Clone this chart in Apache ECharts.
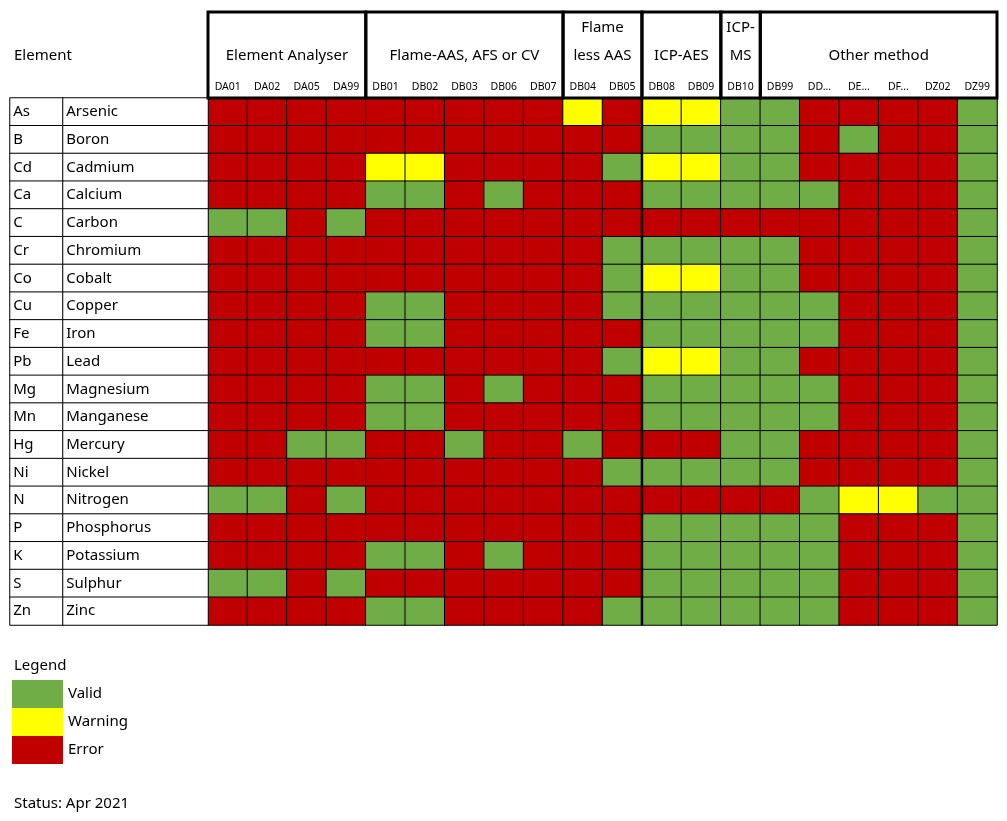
<!DOCTYPE html>
<html><head><meta charset="utf-8">
<script src="https://cdn.jsdelivr.net/npm/echarts@6/dist/echarts.min.js"></script>
<style>html,body{margin:0;padding:0;background:#fff}#c{width:1007px;height:821px}</style>
</head><body><div id="c"></div>
<script>
const columns = ['DA01','DA02','DA05','DA99','DB01','DB02','DB03','DB06','DB07','DB04','DB05','DB08','DB09','DB10','DB99','DD...','DE...','DF...','DZ02','DZ99'];
const symbols = ['As','B','Cd','Ca','C','Cr','Co','Cu','Fe','Pb','Mg','Mn','Hg','Ni','N','P','K','S','Zn'];
const names = ['Arsenic','Boron','Cadmium','Calcium','Carbon','Chromium','Cobalt','Copper','Iron','Lead','Magnesium','Manganese','Mercury','Nickel','Nitrogen','Phosphorus','Potassium','Sulphur','Zinc'];
const groups = [
  {name:'Element Analyser', from:0, to:4},
  {name:'Flame-AAS, AFS or CV', from:4, to:9},
  {name:'Flame\nless AAS', from:9, to:11},
  {name:'ICP-AES', from:11, to:13},
  {name:'ICP-\nMS', from:13, to:14},
  {name:'Other method', from:14, to:20}
];
// G = Valid, Y = Warning, R = Error
const statusRows = [
  'RRRRRRRRRYRYYGGRRRRG',
  'RRRRRRRRRRRGGGGRGRRG',
  'RRRRYYRRRRGYYGGRRRRG',
  'RRRRGGRGRRRGGGGGRRRG',
  'GGRGRRRRRRRRRRRRRRRG',
  'RRRRRRRRRRGGGGGRRRRG',
  'RRRRRRRRRRGYYGGRRRRG',
  'RRRRGGRRRRGGGGGGRRRG',
  'RRRRGGRRRRRGGGGGRRRG',
  'RRRRRRRRRRGYYGGRRRRG',
  'RRRRGGRGRRRGGGGGRRRG',
  'RRRRGGRRRRRGGGGGRRRG',
  'RRGGRRGRRGRRRGGRRRRG',
  'RRRRRRRRRRGGGGGRRRRG',
  'GGRGRRRRRRRRRRRGYYGG',
  'RRRRRRRRRRRGGGGGRRRG',
  'RRRRGGRGRRRGGGGGRRRG',
  'GGRGRRRRRRRGGGGGRRRG',
  'RRRRGGRRRRGGGGGGRRRG'
];
const legendItems = ['Valid','Warning','Error'];
const code = {G:0, Y:1, R:2};
const colors = ['#70AD47','#FFFF00','#C00000'];

const data = [];
statusRows.forEach((row, r) => row.split('').forEach((ch, c) => data.push([c, r, code[ch]])));
const font = 'Noto Sans';
const chart = echarts.init(document.getElementById('c'));
const yCat = {type:'category', inverse:true, show:false};
chart.setOption({
  animation:false,
  textStyle:{fontFamily:font},
  grid:[
    {left:208, top:98, width:789, height:527},
    {left:10, top:98, width:53, height:527},
    {left:63, top:98, width:145, height:527}
  ],
  xAxis:[
    {type:'category', data:columns, gridIndex:0, position:'top', axisLine:{show:false}, axisTick:{show:false},
     axisLabel:{fontSize:10.5, color:'#000', margin:5, interval:0}},
    {type:'category', data:['s'], gridIndex:1, show:false},
    {type:'category', data:['n'], gridIndex:2, show:false}
  ],
  yAxis:[
    Object.assign({gridIndex:0, data:symbols}, yCat),
    Object.assign({gridIndex:1, data:symbols}, yCat),
    Object.assign({gridIndex:2, data:symbols}, yCat)
  ],
  visualMap:{type:'piecewise', show:false, seriesIndex:0, pieces:[
    {value:0, color:colors[0]},{value:1, color:colors[1]},{value:2, color:colors[2]}]},
  series:[
    {type:'heatmap', xAxisIndex:0, yAxisIndex:0, data:data,
     itemStyle:{borderColor:'#000', borderWidth:1}},
    {type:'heatmap', xAxisIndex:1, yAxisIndex:1, data:symbols.map((s,i)=>[0,i,0]),
     itemStyle:{color:'#fff', borderColor:'#000', borderWidth:1},
     label:{show:true, position:[4,'50%'], align:'left', verticalAlign:'middle', fontSize:15, color:'#000',
       formatter:p=>symbols[p.data[1]]}},
    {type:'heatmap', xAxisIndex:2, yAxisIndex:2, data:names.map((s,i)=>[0,i,0]),
     itemStyle:{color:'#fff', borderColor:'#000', borderWidth:1},
     label:{show:true, position:[4,'50%'], align:'left', verticalAlign:'middle', fontSize:15, color:'#000',
       formatter:p=>names[p.data[1]]}}
  ]
});
const cw = 789/columns.length;
const edge = i => chart.convertToPixel({xAxisIndex:0}, columns[Math.min(i,columns.length-1)]) + (i>=columns.length ? cw/2 : -cw/2);
const els = [];
groups.forEach(g => {
  const x0 = edge(g.from), x1 = edge(g.to);
  els.push({type:'rect', shape:{x:x0, y:12, width:x1-x0, height:86}, style:{fill:null, stroke:'#000', lineWidth:3}, z:10});
  const two = g.name.indexOf('\n')>=0;
  els.push({type:'text', x:(x0+x1)/2, y: two ? 42 : 56, style:{text:g.name, fill:'#000', font:'15px "'+font+'"',
    align:'center', verticalAlign:'middle', lineHeight:28}, z:11});
});
els.push({type:'line', shape:{x1:edge(11), y1:98, x2:edge(11), y2:625}, style:{stroke:'#000', lineWidth:2.5}, z:10});
els.push({type:'text', x:14, y:56, style:{text:'Element', fill:'#000', font:'15px "'+font+'"', verticalAlign:'middle'}});
els.push({type:'text', x:14, y:666, style:{text:'Legend', fill:'#000', font:'15px "'+font+'"', verticalAlign:'middle'}});
legendItems.forEach((t,i) => {
  els.push({type:'rect', shape:{x:12, y:680+i*28, width:51, height:28}, style:{fill:colors[i]}});
  els.push({type:'text', x:68, y:694+i*28, style:{text:t, fill:'#000', font:'15px "'+font+'"', verticalAlign:'middle'}});
});
els.push({type:'text', x:14, y:804, style:{text:'Status: Apr 2021', fill:'#000', font:'15px "'+font+'"', verticalAlign:'middle'}});
chart.setOption({graphic:{elements:els}});
</script></body></html>
